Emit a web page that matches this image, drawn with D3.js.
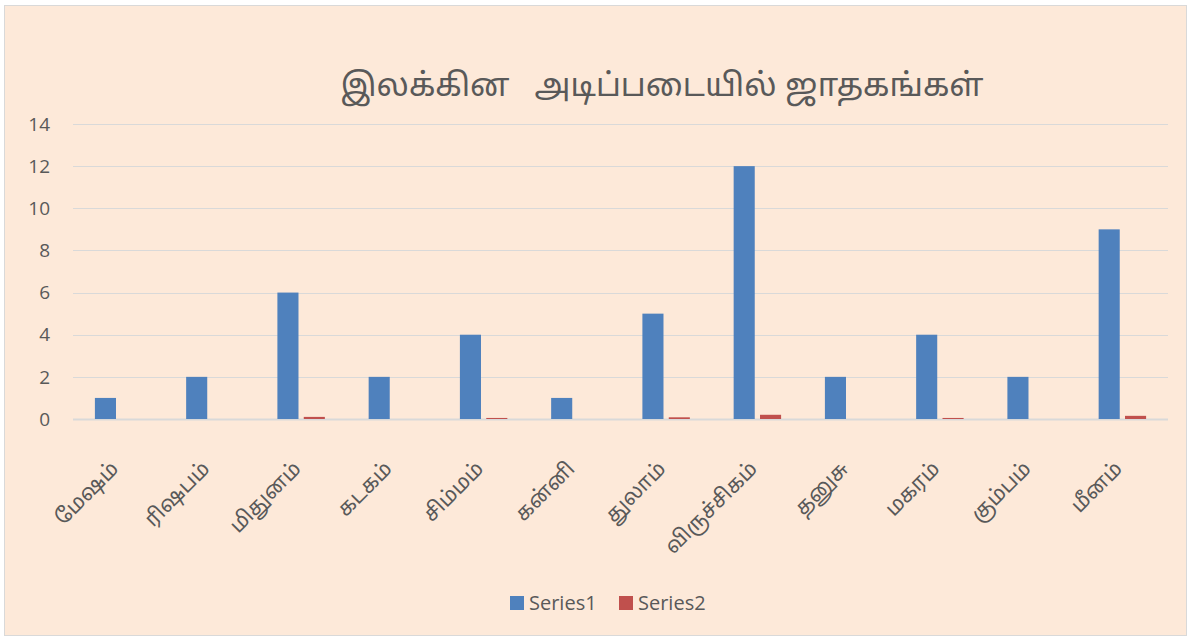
<!DOCTYPE html>
<html>
<head>
<meta charset="utf-8">
<script src="https://cdn.jsdelivr.net/npm/d3@7"></script>
<style>
  body { margin: 0; background: #fff; }
  svg { display: block; }
</style>
</head>
<body>
<div id="chart"></div>
<script>
// chart data
const categories = ['மேஷம்', 'ரிஷபம்', 'மிதுனம்', 'கடகம்', 'சிம்மம்', 'கன்னி', 'துலாம்', 'விருச்சிகம்', 'தனுசு', 'மகரம்', 'கும்பம்', 'மீனம்'];
const seriesNames = ['Series1', 'Series2'];
const series1 = [1, 2, 6, 2, 4, 1, 5, 12, 2, 4, 2, 9];
const series2 = [0, 0, 0.1, 0, 0.05, 0, 0.08, 0.2, 0, 0.05, 0, 0.15];
const yTicks = [0, 2, 4, 6, 8, 10, 12, 14];
const colors = ['#4F81BD', '#C0504D'];
const titleText = 'இலக்கின   அடிப்படையில் ஜாதகங்கள்';

const W = 1191, H = 639;
const font = '"Noto Sans Tamil", "Noto Sans", "DejaVu Sans", sans-serif';
const latin = '"Open Sans", "Liberation Sans", sans-serif';
const textColor = '#595959';

const svg = d3.select('#chart').append('svg')
    .attr('width', W)
    .attr('height', H)
    .style('font-family', font);

// chart area background
svg.append('rect')
    .attr('x', 4.5).attr('y', 5.5)
    .attr('width', 1182).attr('height', 630)
    .attr('fill', '#FDE9D9')
    .attr('stroke', '#D9D9D9');

const plot = { left: 73, right: 1168, top: 124, bottom: 419 };

const x = d3.scaleBand().domain(categories).range([plot.left, plot.right]).padding(0);
const y = d3.scaleLinear().domain([0, 14]).range([plot.bottom, plot.top]);
const bw = x.bandwidth();
const xSub = d3.scaleBand().domain(seriesNames).range([bw * 0.24, bw * 0.76]).paddingInner(0.2);

// gridlines
svg.append('g')
    .selectAll('line')
    .data(yTicks)
    .enter()
    .append('line')
    .attr('x1', plot.left).attr('x2', plot.right)
    .attr('y1', d => Math.round(y(d)) + 0.5)
    .attr('y2', d => Math.round(y(d)) + 0.5)
    .attr('stroke', '#D9D9D9')
    .attr('stroke-width', d => d === 0 ? 2 : 1.2);

// y labels
svg.append('g')
    .selectAll('text')
    .data(yTicks)
    .enter()
    .append('text')
    .attr('x', 50)
    .attr('y', d => y(d))
    .attr('dy', '0.35em')
    .attr('text-anchor', 'end')
    .attr('fill', textColor)
    .style('font-size', '19px')
    .style('font-family', latin)
    .text(d => d);

// bars
const rows = categories.map((c, i) => ({ cat: c, values: [series1[i], series2[i]] }));
const groups = svg.append('g')
    .selectAll('g')
    .data(rows)
    .enter()
    .append('g')
    .attr('transform', d => `translate(${x(d.cat)},0)`);

groups.selectAll('rect')
    .data(d => d.values.map((v, j) => ({ key: seriesNames[j], v: v, j: j })))
    .enter()
    .append('rect')
    .attr('x', d => xSub(d.key))
    .attr('width', xSub.bandwidth())
    .attr('y', d => y(d.v))
    .attr('height', d => y(0) - y(d.v))
    .attr('fill', d => colors[d.j]);

// x labels, end of text at the category centre
svg.append('g')
    .selectAll('text')
    .data(categories)
    .enter()
    .append('text')
    .attr('transform', d => `translate(${x(d) + bw / 2 + 1},470) rotate(-45)`)
    .attr('text-anchor', 'end')
    .attr('fill', textColor)
    .style('font-size', '21px')
    .text(d => d);

// title
svg.append('text')
    .attr('x', 662)
    .attr('y', 96)
    .attr('text-anchor', 'middle')
    .attr('fill', textColor)
    .style('font-size', '32px')
    .style('white-space', 'pre')
    .attr('xml:space', 'preserve')
    .text(titleText);

// legend
const legend = svg.append('g').attr('transform', 'translate(510,603)');
const items = legend.selectAll('g')
    .data(seriesNames)
    .enter()
    .append('g')
    .attr('transform', (d, i) => `translate(${i * 109},0)`);
items.append('rect')
    .attr('x', 0).attr('y', -7)
    .attr('width', 14).attr('height', 14)
    .attr('fill', (d, i) => colors[i]);
items.append('text')
    .attr('x', 19)
    .attr('y', 0)
    .attr('dy', '0.35em')
    .attr('fill', textColor)
    .style('font-size', '20px')
    .style('font-family', latin)
    .text(d => d);
</script>
</body>
</html>
